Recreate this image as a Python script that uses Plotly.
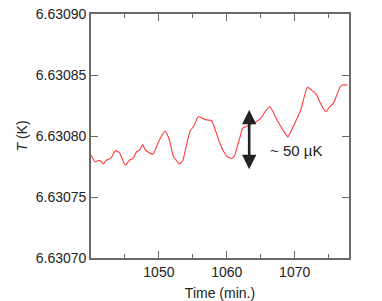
import plotly.graph_objects as go

time_min = [1040.0, 1040.6, 1041.1, 1041.5, 1041.8, 1042.3, 1042.9, 1043.6, 1044.2, 1044.6,
            1045.05, 1045.7, 1046.2, 1046.7, 1047.2, 1047.6, 1047.95, 1048.4, 1049.15, 1049.85,
            1050.4, 1050.9, 1051.5, 1052.15, 1052.65, 1053.0, 1053.5, 1053.9, 1054.6, 1055.2,
            1055.7, 1056.0, 1056.45, 1057.1, 1057.75, 1058.4, 1058.9, 1059.5, 1060.1, 1060.8,
            1061.2, 1061.6, 1062.0, 1062.3, 1062.8, 1063.3, 1063.8, 1064.3, 1065.0, 1065.6,
            1066.35, 1066.9, 1067.4, 1068.0, 1068.55, 1069.0, 1069.4, 1070.0, 1070.9, 1071.4,
            1071.9, 1072.35, 1072.8, 1073.25, 1073.6, 1074.1, 1074.6, 1075.15, 1075.7, 1076.2,
            1076.7, 1077.0, 1077.8]

temp_K = [6.6307844, 6.6307789, 6.6307799, 6.6307791, 6.6307771, 6.6307803, 6.6307816, 6.6307880, 6.6307861, 6.6307814,
          6.6307761, 6.6307803, 6.6307816, 6.6307869, 6.6307889, 6.6307930, 6.6307891, 6.6307869, 6.6307852, 6.6307940,
          6.6308000, 6.6308039, 6.6307975, 6.6307830, 6.6307795, 6.6307771, 6.6307795, 6.6307885, 6.6308041, 6.6308086,
          6.6308152, 6.6308158, 6.6308143, 6.6308131, 6.6308127, 6.6308035, 6.6307953, 6.6307877, 6.6307830, 6.6307817,
          6.6307844, 6.6307926, 6.6308000, 6.6308063, 6.6308076, 6.6308090, 6.6308104, 6.6308117, 6.6308145, 6.6308197,
          6.6308240, 6.6308189, 6.6308131, 6.6308074, 6.6308025, 6.6307992, 6.6308033, 6.6308102, 6.6308213, 6.6308320,
          6.6308402, 6.6308381, 6.6308363, 6.6308336, 6.6308291, 6.6308238, 6.6308199, 6.6308238, 6.6308268, 6.6308336,
          6.6308402, 6.6308418, 6.6308418]

y_ticks = [6.63070, 6.63075, 6.63080, 6.63085, 6.63090]
y_tick_labels = ["6.63070", "6.63075", "6.63080", "6.63085", "6.63090"]
x_ticks = [1050, 1060, 1070]

arrow_time = 1063.3
arrow_low = 6.6307716
arrow_high = 6.6308213
label_time = 1066.0
label_temp = 6.6307885
label_text = "~ 50 µK"

FONT = "Liberation Sans, Arial, Helvetica, sans-serif"
AXC = "#6a6a6a"

fig = go.Figure()
fig.add_trace(go.Scatter(x=time_min, y=temp_K, mode="lines",
                         line=dict(color="#ff3a3a", width=1.1, shape="spline", smoothing=0.5),
                         hoverinfo="skip"))

fig.add_annotation(x=arrow_time, y=arrow_high, ax=arrow_time, ay=arrow_low,
                   xref="x", yref="y", axref="x", ayref="y", text="",
                   showarrow=True, arrowside="end+start", arrowhead=2, startarrowhead=2,
                   arrowsize=1.1, startarrowsize=1.1, arrowwidth=2.6, arrowcolor="#222222",
                   standoff=0, startstandoff=0)
fig.add_annotation(x=label_time, y=label_temp, xref="x", yref="y", text=label_text,
                   showarrow=False, xanchor="left", yanchor="middle",
                   font=dict(family=FONT, size=15, color="#222222"))

fig.update_layout(
    width=382, height=301,
    margin=dict(l=91, r=33, t=14, b=43, autoexpand=False),
    paper_bgcolor="white", plot_bgcolor="white",
    showlegend=False,
    font=dict(family=FONT, size=14, color="#222222"),
)
fig.update_xaxes(range=[1040, 1078], tickvals=x_ticks, ticks="inside", ticklen=7,
                 tickwidth=1.2, tickcolor=AXC, showline=True, linecolor=AXC, linewidth=1.6,
                 mirror="ticks", showgrid=False, zeroline=False, automargin=False,
                 minor=dict(ticks="inside", dtick=5, tick0=1040, ticklen=4, tickcolor=AXC, tickwidth=1.2),
                 title=dict(text="Time (min.)", standoff=10, font=dict(size=14)),
                 tickfont=dict(size=14))
fig.update_yaxes(range=[6.63070, 6.63090], tickvals=y_ticks, ticktext=y_tick_labels,
                 ticks="inside", ticklen=7, tickwidth=1.2, tickcolor=AXC,
                 showline=True, linecolor=AXC, linewidth=1.6, mirror="ticks",
                 showgrid=False, zeroline=False, automargin=False,
                 title=dict(text="<i>T</i> (K)", standoff=5, font=dict(size=14)),
                 tickfont=dict(size=14))

fig.write_html("out.html", config={"displayModeBar": False},
               post_script="document.body.style.margin='0';")
